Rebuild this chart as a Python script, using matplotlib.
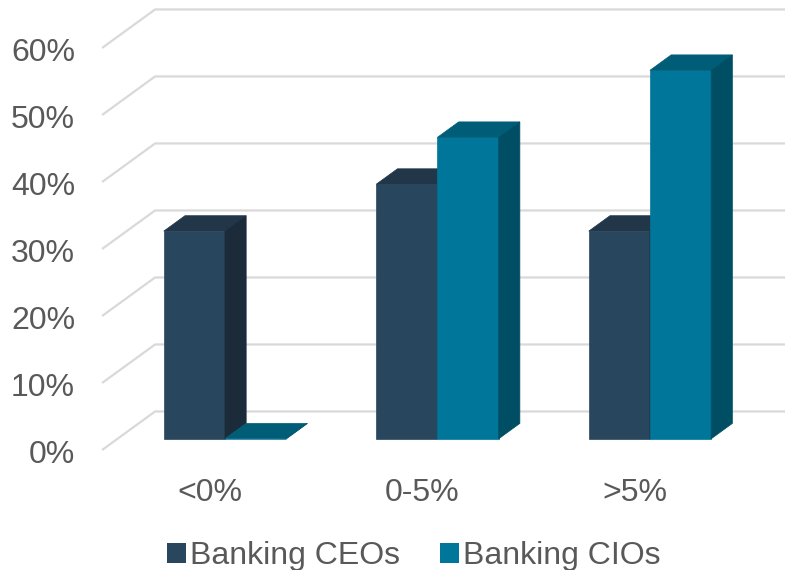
import numpy as np
import matplotlib.pyplot as plt
from matplotlib.patches import Polygon, Patch

categories = ['<0%', '0-5%', '>5%']
series = ['Banking CEOs', 'Banking CIOs']
ceos = [31, 38, 31]
cios = [0, 45, 55]
yticks = [0, 10, 20, 30, 40, 50, 60]

# face colours: front, top, side
ceo_cols = ('#29465F', '#213649', '#1C2B3A')
cio_cols = ('#00769A', '#005D78', '#004E64')

# oblique depth: shift for the full depth of the wall (x in category units, y in %)
DX = 0.2494
DY = 5.75
BAR_W = 0.288
Z0, Z1 = 0.29, 0.69      # bars sit in the middle of the depth
WALL_X = -0.506          # front left end of the gridlines


def proj(x, v, z):
    return (x + DX * z, v + DY * z)


def box(ax, x0, x1, h, cols):
    front = [proj(x0, 0, Z0), proj(x1, 0, Z0), proj(x1, h, Z0), proj(x0, h, Z0)]
    top = [proj(x0, h, Z0), proj(x1, h, Z0), proj(x1, h, Z1), proj(x0, h, Z1)]
    side = [proj(x1, 0, Z0), proj(x1, 0, Z1), proj(x1, h, Z1), proj(x1, h, Z0)]
    for pts, c in zip((front, top, side), cols):
        ax.add_patch(Polygon(pts, closed=True, facecolor=c, edgecolor=c,
                             lw=0.5, zorder=3))


plt.rcParams['font.family'] = ['Liberation Sans', 'DejaVu Sans']
fig = plt.figure(figsize=(7.85, 5.7), dpi=100)
ax = fig.add_axes([0, 0, 1, 1])
ax.set_xlim(-0.9864, 2.7078)
ax.set_ylim(-17.91, 67.16)
ax.axis('off')

txt = '#595959'
fs = 23

# back wall gridlines with the diagonal floor/side edge
for v in yticks:
    xa, ya = proj(WALL_X, v, 0)
    xb, yb = proj(WALL_X, v, 1)
    ax.plot([xa, xb, 2.8], [ya, yb, yb], color='#D9D9D9', lw=1.6,
            solid_capstyle='butt', zorder=1)
    ax.text(-0.633, v - 0.8, f'{v}%', ha='right', va='center',
            fontsize=fs, color=txt)

for i, cat in enumerate(categories):
    box(ax, i - BAR_W, i, ceos[i], ceo_cols)
    box(ax, i, i + BAR_W, cios[i], cio_cols)
    ax.text(i, -6.4, cat, ha='center', va='center', fontsize=fs, color=txt)

handles = [Patch(facecolor=ceo_cols[0]), Patch(facecolor=cio_cols[0])]
fig.legend(handles, series, loc='center', bbox_to_anchor=(414 / 785, 1 - 556 / 570),
           ncol=2, frameon=False, fontsize=fs, labelcolor=txt,
           handlelength=0.6, handleheight=0.6, handletextpad=0.12,
           columnspacing=1.25, borderpad=0)

fig.savefig('out.png', dpi=100)
